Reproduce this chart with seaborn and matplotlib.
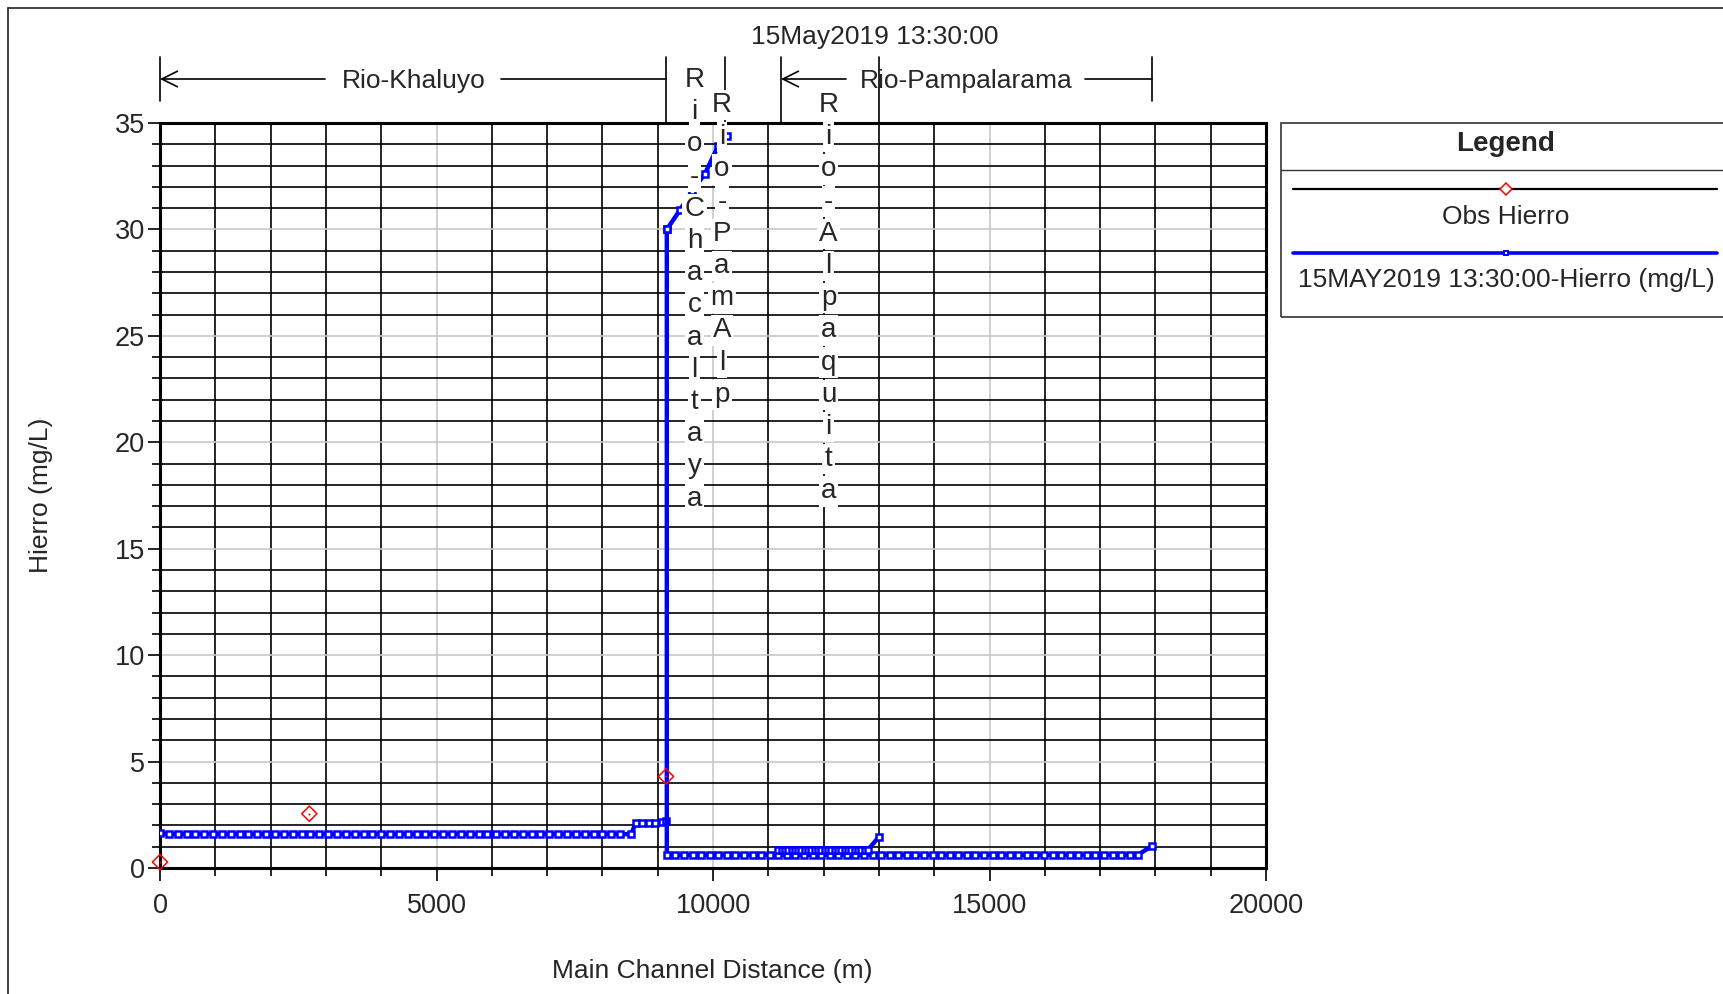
import matplotlib
matplotlib.use("Agg")
import matplotlib.pyplot as plt
from matplotlib.lines import Line2D
from matplotlib.patches import Rectangle
from matplotlib.ticker import MultipleLocator
from matplotlib.transforms import blended_transform_factory
import seaborn as sns

# ---- simulated iron profile, 15 May 2019 13:30 ----
# Rio-Khaluyo reach
khaluyo_station = [0, 160, 320, 480, 640, 800, 960, 1120, 1280, 1440,
                   1600, 1760, 1920, 2080, 2240, 2400, 2560, 2720, 2880, 3040,
                   3200, 3360, 3520, 3680, 3840, 4000, 4160, 4320, 4480, 4640,
                   4800, 4960, 5120, 5280, 5440, 5600, 5760, 5920, 6080, 6240,
                   6400, 6560, 6720, 6880, 7040, 7200, 7360, 7520, 7680, 7840,
                   8000, 8160, 8320, 8520, 8600, 8720, 8840, 8960, 9080, 9150]
khaluyo_iron = [1.65, 1.6, 1.6, 1.6, 1.6, 1.6, 1.6, 1.6, 1.6, 1.6,
                1.6, 1.6, 1.6, 1.6, 1.6, 1.6, 1.6, 1.6, 1.6, 1.6,
                1.6, 1.6, 1.6, 1.6, 1.6, 1.6, 1.6, 1.6, 1.6, 1.6,
                1.6, 1.6, 1.6, 1.6, 1.6, 1.6, 1.6, 1.6, 1.6, 1.6,
                1.6, 1.6, 1.6, 1.6, 1.6, 1.6, 1.6, 1.6, 1.6, 1.6,
                1.6, 1.6, 1.6, 1.58, 2.1, 2.1, 2.12, 2.13, 2.15, 2.2]

# Rio-Chacaltaya reach
chacaltaya_station = [9165, 9400, 9620, 9850, 10090, 10250]
chacaltaya_iron = [30.0, 30.9, 31.8, 32.6, 33.9, 34.4]

# Rio-Pampalarama reach (main stem downstream of the junction)
pampalarama_station = [9165, 9165, 9320, 9475, 9630, 9785, 9940, 10095, 10250, 10405,
                       10560, 10715, 10870, 11025, 11180, 11335, 11490, 11645, 11800, 11955,
                       12110, 12265, 12420, 12575, 12730, 12885, 13040, 13195, 13350, 13505,
                       13660, 13815, 13970, 14125, 14280, 14435, 14590, 14745, 14900, 15055,
                       15210, 15365, 15520, 15675, 15830, 15985, 16140, 16295, 16450, 16605,
                       16760, 16915, 17070, 17225, 17380, 17535, 17690, 17940]
pampalarama_iron = [30.0, 0.62, 0.62, 0.62, 0.62, 0.62, 0.62, 0.62, 0.62, 0.62,
                    0.62, 0.62, 0.62, 0.62, 0.62, 0.62, 0.62, 0.62, 0.62, 0.62,
                    0.62, 0.62, 0.62, 0.62, 0.62, 0.62, 0.62, 0.62, 0.62, 0.62,
                    0.62, 0.62, 0.62, 0.62, 0.62, 0.62, 0.62, 0.62, 0.62, 0.62,
                    0.62, 0.62, 0.62, 0.62, 0.62, 0.62, 0.62, 0.62, 0.62, 0.62,
                    0.62, 0.62, 0.62, 0.62, 0.62, 0.62, 0.62, 1.05]

# Rio-Alpaquita reach
alpaquita_station = [11180, 11240, 11300, 11360, 11420, 11480, 11540, 11600, 11660, 11720,
                     11780, 11840, 11900, 11960, 12020, 12080, 12140, 12200, 12260, 12320,
                     12380, 12440, 12500, 12560, 12620, 12680, 12740, 12800, 13000]
alpaquita_iron = [0.85, 0.85, 0.85, 0.85, 0.85, 0.85, 0.85, 0.85, 0.85, 0.85,
                  0.85, 0.85, 0.85, 0.85, 0.85, 0.85, 0.85, 0.85, 0.85, 0.85,
                  0.85, 0.85, 0.85, 0.85, 0.85, 0.85, 0.85, 0.85, 1.46]

# Observed iron
obs_station = [0, 2700, 9150]
obs_iron = [0.28, 2.55, 4.3]

# Reach annotations
reach_bars_short = [0, 17938]
reach_bars_long = [9150, 10217, 11230, 13002]
x_ticks = [0, 5000, 10000, 15000, 20000]
y_ticks = [0, 5, 10, 15, 20, 25, 30, 35]

W, H = 1723, 994
FS = 19

sns.set_theme(style="white")
plt.rcParams["font.family"] = ["Liberation Sans", "DejaVu Sans"]
plt.rcParams["font.size"] = FS

fig = plt.figure(figsize=(W / 100, H / 100), dpi=100)
fig.patch.set_facecolor("white")
ax = fig.add_axes([160 / W, (H - 868) / H, 1106 / W, 745 / H])

line_kw = dict(ax=ax, sort=False, estimator=None, color="#0000ff", linewidth=3.2,
               marker="s", markersize=3.8, markerfacecolor="white",
               markeredgecolor="#0000ff", markeredgewidth=1.8, zorder=5)
for st, fe in [(khaluyo_station, khaluyo_iron),
               (pampalarama_station, pampalarama_iron),
               (alpaquita_station, alpaquita_iron),
               (chacaltaya_station, chacaltaya_iron)]:
    sns.lineplot(x=st, y=fe, **line_kw)

sns.scatterplot(x=obs_station, y=obs_iron, ax=ax, marker="D", s=60,
                facecolors="none", edgecolor="#ff0000", linewidth=1.1, zorder=6,
                clip_on=False)
sns.scatterplot(x=obs_station, y=obs_iron, ax=ax, marker="o", s=2,
                color="#ff0000", linewidth=0, zorder=6, clip_on=False)

ax.set_xlim(0, 20000)
ax.set_ylim(0, 35)
ax.set_xlabel("")
ax.set_ylabel("")
ax.set_xticks(x_ticks)
ax.set_yticks(y_ticks)
ax.set_xticklabels([str(v) for v in x_ticks])
ax.set_yticklabels([str(v) for v in y_ticks])
ax.xaxis.set_minor_locator(MultipleLocator(1000))
ax.yaxis.set_minor_locator(MultipleLocator(1))
ax.set_axisbelow(True)
ax.grid(which="minor", color="black", linewidth=1.2)
ax.grid(which="major", color="#c8c8c8", linewidth=1.2)
ax.tick_params(which="major", direction="out", length=9, width=1.2, color="black",
               labelsize=FS + 0.5, bottom=True, left=True)
ax.tick_params(axis="x", which="major", pad=9)
ax.tick_params(axis="y", which="major", pad=2)
ax.tick_params(which="minor", direction="out", length=6, width=1.2, color="black",
               bottom=True, left=True)
for side, spine in ax.spines.items():
    spine.set_visible(True)
    spine.set_color("black")
    spine.set_linewidth(2.2)

# ---- reach header above the plot ----
trans = blended_transform_factory(ax.transData, ax.transAxes)


def ay(py):
    return (868 - py) / 745


hy = ay(79)
ty = ay(81)
for xb in reach_bars_short:
    ax.add_line(Line2D([xb, xb], [ay(57), ay(101)], transform=trans, color="black",
                       lw=1.2, clip_on=False, zorder=8))
for xb in reach_bars_long:
    ax.add_line(Line2D([xb, xb], [ay(57), ay(122)], transform=trans, color="black",
                       lw=1.2, clip_on=False, zorder=8))

arrow_kw = dict(arrowstyle="->", lw=1.2, color="black", mutation_scale=28,
                shrinkA=0, shrinkB=0)
ax.annotate("", xy=(0, hy), xytext=(2984, hy), xycoords=trans, textcoords=trans,
            arrowprops=arrow_kw, annotation_clip=False)
ax.add_line(Line2D([6166, 9150], [hy, hy], transform=trans, color="black", lw=1.2,
                   clip_on=False))
ax.text(4584, ty, "Rio-Khaluyo", transform=trans, ha="center", va="center", fontsize=FS)

ax.annotate("", xy=(11230, hy), xytext=(12405, hy), xycoords=trans, textcoords=trans,
            arrowprops=arrow_kw, annotation_clip=False)
ax.add_line(Line2D([16727, 17938], [hy, hy], transform=trans, color="black", lw=1.2,
                   clip_on=False))
ax.text(14575, ty, "Rio-Pampalarama", transform=trans, ha="center", va="center",
        fontsize=FS, zorder=7)

for label, xc, y0 in [("Rio-Chacaltaya", 9665, 80),
                      ("Rio-PamAlp", 10163, 105),
                      ("Rio-Alpaquita", 12089, 105)]:
    for i, ch in enumerate(label):
        ax.text(xc, ay(y0 + i * 32.2), ch, transform=trans, ha="center", va="center",
                fontsize=FS + 1, zorder=9, clip_on=False,
                bbox=dict(facecolor="white", edgecolor="none", pad=1.6))

# ---- titles and axis labels ----
fig.text(875 / W, 1 - 37 / H, "15May2019 13:30:00", ha="center", va="center", fontsize=FS)
fig.text(41 / W, 1 - 495 / H, "Hierro (mg/L)", rotation=90, ha="center", va="center",
         fontsize=FS)
fig.text(712 / W, 1 - 971 / H, "Main Channel Distance (m)", ha="center", va="center",
         fontsize=FS)

# ---- outer frame ----
fig.add_artist(Line2D([8 / W, 8 / W], [0, 1 - 8 / H], transform=fig.transFigure,
                      color="#222222", lw=1.2))
fig.add_artist(Line2D([8 / W, 1], [1 - 8 / H, 1 - 8 / H], transform=fig.transFigure,
                      color="#222222", lw=1.2))

# ---- legend panel ----
fig.add_artist(Rectangle((1281 / W, 1 - 317 / H), (1800 - 1281) / W, (317 - 123) / H,
                         transform=fig.transFigure, fill=False, edgecolor="#333333",
                         lw=1.2))
fig.add_artist(Line2D([1281 / W, 1], [1 - 170 / H, 1 - 170 / H], transform=fig.transFigure,
                      color="#333333", lw=1.0))
fig.text(1506 / W, 1 - 144 / H, "Legend", ha="center", va="center", fontsize=FS + 1,
         fontweight="bold")
fig.add_artist(Line2D([1293 / W, 1717 / W], [1 - 189 / H, 1 - 189 / H],
                      transform=fig.transFigure, color="black", lw=1.6))
fig.add_artist(Line2D([1506 / W], [1 - 189 / H], transform=fig.transFigure, marker="D",
                      markersize=6, markerfacecolor="white", markeredgecolor="#ff0000",
                      markeredgewidth=1.1, linestyle="none"))
fig.text(1506 / W, 1 - 217 / H, "Obs Hierro", ha="center", va="center", fontsize=FS)
fig.add_artist(Line2D([1293 / W, 1717 / W], [1 - 253 / H, 1 - 253 / H],
                      transform=fig.transFigure, color="#0000ff", lw=2.6))
fig.add_artist(Line2D([1506 / W], [1 - 253 / H], transform=fig.transFigure, marker="s",
                      markersize=3.2, markerfacecolor="white", markeredgecolor="#0000ff",
                      markeredgewidth=1.4, linestyle="none"))
fig.text(1506 / W, 1 - 280 / H, "15MAY2019 13:30:00-Hierro (mg/L)", ha="center",
         va="center", fontsize=FS)

fig.savefig("out.png", dpi=100)
